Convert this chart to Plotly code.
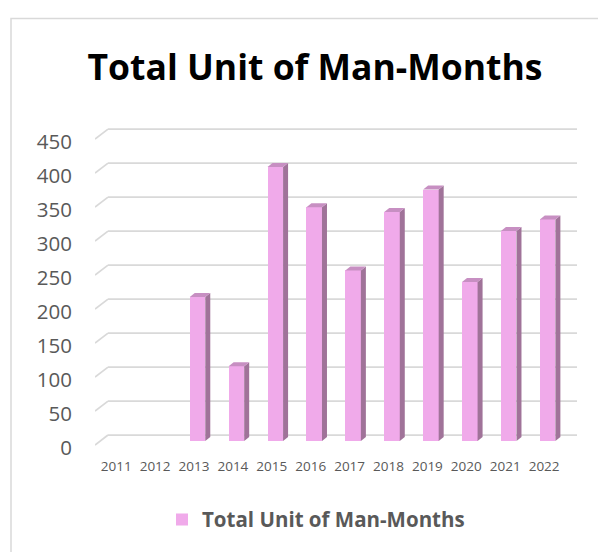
import plotly.graph_objects as go

# ---- data ----
years = ["2011", "2012", "2013", "2014", "2015", "2016", "2017", "2018", "2019", "2020", "2021", "2022"]
man_months = [0, 0, 212, 110, 403, 344, 251, 337, 370, 234, 309, 326]
y_ticks = [0, 50, 100, 150, 200, 250, 300, 350, 400, 450]
series_name = "Total Unit of Man-Months"
title_text = "Total Unit of Man-Months"

# ---- styling / layout constants ----
OFF = 8                     # page body margin in the browser
W, H = 606 - OFF, 552 - OFF
FRONT = "#F0AAEA"
SIDE = "#A07399"
TOP = "#C78FC2"
GRID = "#D9D9D9"
TXT = "#595959"
FONT = "Open Sans"

# pixel geometry (window coordinates) of plot area
px_left, px_right = 95, 577
px_top, px_bot = 120, 450
px_per_cat = 38.9
bar0_px = 119.7          # centre of first bar (pixels)
base_px = 443            # bar front base
px_per_unit = 0.684

x_min = (px_left - bar0_px) / px_per_cat
x_max = (px_right - bar0_px) / px_per_cat
y_min = (base_px - px_bot) / px_per_unit
y_max = (base_px - px_top) / px_per_unit

bar_w = 0.4
dx = 5 / px_per_cat       # depth in x (data units)
dy = 4 / px_per_unit      # depth in y (data units)
grid_back = 6 / px_per_unit     # back gridline offset
grid_front = -4 / px_per_unit   # front gridline offset
label_off = -6.5 / px_per_unit  # y tick label offset
back_x = (108 - bar0_px) / px_per_cat

xs = list(range(len(years)))

fig = go.Figure()
fig.add_trace(go.Bar(
    x=xs, y=man_months, width=bar_w, name=series_name,
    marker=dict(color=FRONT, line=dict(width=0)),
    showlegend=True, hoverinfo="x+y",
))

shapes = []
for t in y_ticks:
    shapes.append(dict(type="line", xref="x", yref="y", x0=back_x, x1=x_max,
                       y0=t + grid_back, y1=t + grid_back,
                       line=dict(color=GRID, width=1.8), layer="below"))
    shapes.append(dict(type="line", xref="x", yref="y", x0=x_min, x1=back_x,
                       y0=t + grid_front, y1=t + grid_back,
                       line=dict(color=GRID, width=1.8), layer="below"))

for i, v in zip(xs, man_months):
    if v <= 0:
        continue
    xl, xr = i - bar_w / 2, i + bar_w / 2
    side = f"M {xr},0 L {xr+dx},{dy} L {xr+dx},{v+dy} L {xr},{v} Z"
    top = f"M {xl},{v} L {xr},{v} L {xr+dx},{v+dy} L {xl+dx},{v+dy} Z"
    shapes.append(dict(type="path", xref="x", yref="y", path=side,
                       fillcolor=SIDE, line=dict(width=0), layer="above"))
    shapes.append(dict(type="path", xref="x", yref="y", path=top,
                       fillcolor=TOP, line=dict(width=0), layer="above"))

dom_w = px_right - px_left
dom_h = px_bot - px_top
def paper_x(p):
    return (p - px_left) / dom_w
def paper_y(p):
    return (px_bot - p) / dom_h
shapes.append(dict(type="rect", xref="paper", yref="paper",
                   x0=paper_x(11), x1=paper_x(640), y0=paper_y(18), y1=paper_y(600),
                   line=dict(color=GRID, width=1.5), fillcolor="rgba(0,0,0,0)", layer="below"))

fig.update_layout(
    width=W, height=H,
    margin=dict(l=px_left - OFF, r=(W + OFF) - px_right, t=px_top - OFF, b=(H + OFF) - px_bot, pad=0),
    paper_bgcolor="white", plot_bgcolor="white",
    title=dict(text=title_text, x=(315 - OFF) / W, xanchor="center",
               y=1 - (68 - OFF) / H, yanchor="middle",
               font=dict(family=FONT, size=35.5, color="black", weight="bold")),
    xaxis=dict(range=[x_min, x_max], tickmode="array",
               tickvals=[i - 0.09 for i in xs], ticktext=years,
               showgrid=False, zeroline=False, showline=False, ticks="",
               tickfont=dict(family=FONT, size=13.5, color=TXT),
               ticklabelstandoff=8, fixedrange=True),
    yaxis=dict(range=[y_min, y_max], tickmode="array",
               tickvals=[t + label_off for t in y_ticks], ticktext=[str(t) for t in y_ticks],
               showgrid=False, zeroline=False, showline=False, ticks="",
               tickfont=dict(family=FONT, size=20.5, color=TXT),
               ticklabelstandoff=22, fixedrange=True),
    legend=dict(orientation="h", x=paper_x(316), xanchor="center",
                y=paper_y(522), yanchor="middle",
                font=dict(family=FONT, size=20.5, color=TXT, weight="bold"),
                itemwidth=30),
    shapes=shapes,
    bargap=0,
)

fig.write_html("out.html")
